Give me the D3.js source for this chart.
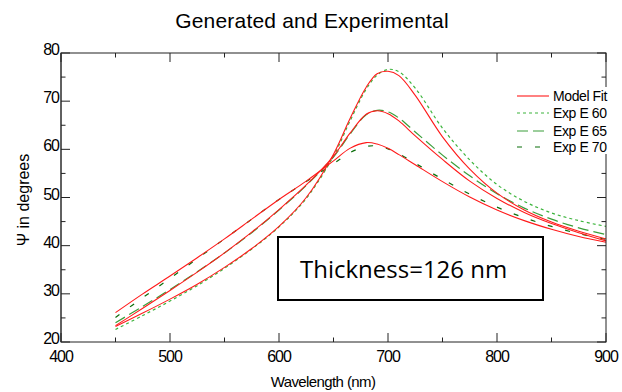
<!DOCTYPE html>
<html><head><meta charset="utf-8">
<script src="https://cdn.jsdelivr.net/npm/d3@7"></script>
<style>body{margin:0;background:#fff}svg{display:block}</style>
</head><body>
<script>
const wavelengths = [450,475,500,525,550,575,600,625,650,665,680,690,700,710,725,750,775,800,825,850,875,900];
const fit60 = [23.2,26.0,28.9,32.0,35.5,39.4,44.0,50.0,59.0,66.3,72.9,75.7,76.2,75.3,71.2,62.6,55.9,50.9,47.4,44.9,43.0,41.4];
const exp60 = [22.6,25.5,28.5,31.7,35.3,39.3,43.9,49.8,58.6,65.8,72.5,75.4,76.6,76.1,72.7,64.4,57.8,52.7,49.2,46.8,45.2,44.0];
const fit65 = [23.4,27.0,30.7,34.5,38.5,42.8,47.5,52.6,58.6,63.3,67.3,68.0,67.4,65.9,62.8,57.9,53.4,49.8,46.9,44.6,42.7,41.0];
const exp65 = [24.0,27.4,30.9,34.6,38.5,42.7,47.4,52.5,58.4,63.1,67.2,68.1,67.8,66.5,63.6,58.8,54.5,50.8,47.8,45.5,43.7,42.3];
const fit70 = [26.1,30.0,33.7,37.5,41.4,45.5,49.6,53.4,57.6,60.2,61.4,61.1,60.2,58.9,56.8,53.3,50.1,47.4,45.2,43.4,41.9,40.7];
const exp70 = [25.1,29.2,33.2,37.3,41.4,45.5,49.6,53.3,57.0,59.3,60.6,60.7,60.1,59.1,57.1,53.8,50.7,48.0,45.8,44.0,42.5,41.3];
const xTicks = [400,500,600,700,800,900];
const yTicks = [20,30,40,50,60,70,80];
const legendLabels = ["Model Fit","Exp E 60","Exp E 65","Exp E 70"];

const W=622,H=392;
const svg=d3.select("body").append("svg").attr("width",W).attr("height",H);
const x=d3.scaleLinear().domain([400,900]).range([61,606]);
const y=d3.scaleLinear().domain([20,80]).range([342,53]);

const styles={
  fit:{stroke:"#ff1a1a",dash:null,w:1.1},
  e60:{stroke:"#3cb43c",dash:"3,3",w:1.2},
  e65:{stroke:"#3a9e3a",dash:"11,5",w:1.2},
  e70:{stroke:"#0a6e0a",dash:"5,13",w:1.2}
};
const line=d3.line().x((d,i)=>x(wavelengths[i])).y(d=>y(d)).curve(d3.curveCatmullRom.alpha(0.5));
function draw(arr,s){
  svg.append("path").datum(arr).attr("d",line).attr("fill","none")
    .attr("stroke",s.stroke).attr("stroke-width",s.w).attr("stroke-dasharray",s.dash);
}
draw(exp60,styles.e60);draw(exp65,styles.e65);draw(exp70,styles.e70);
draw(fit60,styles.fit);draw(fit65,styles.fit);draw(fit70,styles.fit);

// frame
svg.append("rect").attr("x",61).attr("y",53).attr("width",545).attr("height",289)
  .attr("fill","none").attr("stroke","#222").attr("stroke-width",1);
svg.append("line").attr("x1",61).attr("x2",61).attr("y1",53).attr("y2",342)
  .attr("stroke","#555").attr("stroke-width",1.6);

// ticks (inside) all four sides
const xMinor=d3.range(400,901,50), yMinor=d3.range(20,81,5);
const tk=svg.append("g").attr("stroke","#222").attr("stroke-width",1);
xMinor.forEach(v=>{const L=(v%100===0)?9:4.5;
  tk.append("line").attr("x1",x(v)).attr("x2",x(v)).attr("y1",342).attr("y2",342-L);
  tk.append("line").attr("x1",x(v)).attr("x2",x(v)).attr("y1",53).attr("y2",53+L);});
yMinor.forEach(v=>{const L=(v%10===0)?9:4.5;
  tk.append("line").attr("y1",y(v)).attr("y2",y(v)).attr("x1",61).attr("x2",61+L);
  tk.append("line").attr("y1",y(v)).attr("y2",y(v)).attr("x1",606).attr("x2",606-L);});

// tick labels
const tf="'Liberation Sans',Arial,sans-serif";
svg.append("g").selectAll("text").data(xTicks).join("text")
  .attr("x",d=>x(d)).attr("y",362).attr("text-anchor","middle")
  .attr("font-family",tf).attr("font-size",16).attr("letter-spacing",-1).text(d=>d);
svg.append("g").selectAll("text").data(yTicks).join("text")
  .attr("x",59).attr("y",d=>y(d)+2).attr("text-anchor","end")
  .attr("font-family",tf).attr("font-size",16).attr("letter-spacing",-1).text(d=>d);

// titles
svg.append("text").attr("x",312).attr("y",28).attr("text-anchor","middle")
  .attr("font-family",tf).attr("font-size",21).attr("letter-spacing",0.2).text("Generated and Experimental");
svg.append("text").attr("x",323).attr("y",387).attr("text-anchor","middle")
  .attr("font-family",tf).attr("font-size",15).attr("letter-spacing",-0.6).text("Wavelength (nm)");
svg.append("text").attr("transform","translate(29,200) rotate(-90)").attr("text-anchor","middle")
  .attr("font-family",tf).attr("font-size",16).text("Ψ in degrees");

// legend
svg.append("rect").attr("x",512).attr("y",87).attr("width",110).attr("height",67).attr("fill","#fff");
const lg=[styles.fit,styles.e60,styles.e65,styles.e70];
const ly=[96,113,131,147];
lg.forEach((s,i)=>{
  svg.append("line").attr("x1",517).attr("x2",549).attr("y1",ly[i]).attr("y2",ly[i])
    .attr("stroke",s.stroke).attr("stroke-width",s.w).attr("stroke-dasharray",s.dash);
  svg.append("text").attr("x",553).attr("y",ly[i]+5).attr("font-family",tf).attr("font-size",14)
    .attr("letter-spacing",-0.4).text(legendLabels[i]);
});

// annotation box
svg.append("rect").attr("x",278).attr("y",237).attr("width",265).attr("height",63)
  .attr("fill","#fff").attr("stroke","#000").attr("stroke-width",2);
svg.append("text").attr("x",300).attr("y",278).attr("font-family","'Open Sans',sans-serif")
  .attr("font-size",24).text("Thickness=126 nm");
</script>
</body></html>
